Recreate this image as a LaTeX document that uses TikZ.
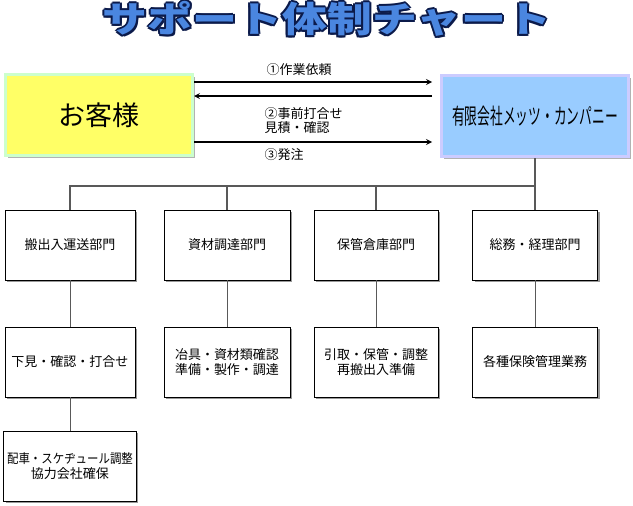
\documentclass[tikz,border=0pt]{standalone}
\usepackage{fontspec}
\setmainfont{Noto Sans CJK JP}
\usepackage{tikz}
\usetikzlibrary{positioning,shadows,calc}
\definecolor{custfill}{HTML}{FFFF66}
\definecolor{custline}{HTML}{CCFFCC}
\definecolor{compfill}{HTML}{99CCFF}
\definecolor{compline}{HTML}{CCCCFF}
\definecolor{titleblue}{HTML}{4A86E0}
\definecolor{titledark}{HTML}{0B1A4A}
\tikzstyle{chart}=[
  x=1pt,y=-1pt,>=stealth,font=\fontsize{13}{15}\selectfont
]
\tikzstyle{dept}=[
  draw,fill=white,line width=0.9,minimum height=70pt,align=center,
  drop shadow={shadow xshift=2pt,shadow yshift=-2pt,fill=gray!80,opacity=1}
]
\tikzstyle{party}=[
  line width=3,minimum width=187pt,minimum height=81pt,
  drop shadow={shadow xshift=2pt,shadow yshift=-2pt,fill=gray!60,opacity=1}
]
\tikzstyle{flow}=[
  ->,line width=1.6,shorten >=8pt
]
\tikzstyle{org}=[
  draw=black!65,line width=1.2
]
\newcommand{\titletext}[0]{\scalebox{1.32}[1.05]{\bfseries\fontsize{34}{36}\selectfont サポート体制チャート}}

\begin{document}
\begin{tikzpicture}[chart]
    \useasboundingbox (0,0) rectangle (633,506);
    % title
    \foreach \dx/\dy in {-2/0,2/0,0/-2,0/2,-1.5/-1.5,1.5/1.5,-1.5/1.5,1.5/-1.5}
      \node[text=titledark] at ($(327,19)+(\dx,\dy)$) {\titletext};
    \node (title) [text=titleblue] at (327,19) {\titletext};
    % parties
    \node (cust) at (99,115) [party,draw=custline,fill=custfill]
      {\fontsize{27}{29}\selectfont お客様};
    \node (comp) at (535,116) [party,draw=compline,fill=compfill]
      {\scalebox{0.58}[1]{\fontsize{22}{24}\selectfont 有限会社メッツ・カンパニー}};
    \draw[flow] (cust.east |- 0,82) -- (comp.west |- 0,82);
    \draw[flow,shorten >=0pt,shorten <=8pt] (comp.west |- 0,96) -- (cust.east |- 0,96);
    \draw[flow] (cust.east |- 0,142) -- (comp.west |- 0,142);
    \node (req) at (299,70) {①作業依頼};
    \node (meet) at (261,121) [anchor=west,align=left,font=\fontsize{13}{14}\selectfont]
      {②事前打合せ\\見積・確認};
    \node (order) at (261,155) [anchor=west] {③発注};
    % departments
    \node (d1) at (70,245) [dept,minimum width=130pt] {搬出入運送部門};
    \node (d2) at (227,245) [dept,minimum width=126pt] {資材調達部門};
    \node (d3) at (376,245) [dept,minimum width=124pt] {保管倉庫部門};
    \node (d4) at (535,245) [dept,minimum width=125pt] {総務・経理部門};
    \node (t1) at (70,362) [dept,minimum width=130pt] {下見・確認・打合せ};
    \node (t2) at (227,362) [dept,minimum width=126pt] {冶具・資材類確認\\準備・製作・調達};
    \node (t3) at (376,362) [dept,minimum width=124pt] {引取・保管・調整\\再搬出入準備};
    \node (t4) at (535,362) [dept,minimum width=125pt] {各種保険管理業務};
    \node (u1) at (70,466) [dept,minimum width=130pt]
      {\scalebox{0.88}[1]{配車・スケヂュール調整}\\協力会社確保};
    \draw[org] (comp.south) -- (d4.north);
    \draw[org] (comp.south |- 0,186) -| (d1.north);
    \draw[org] (d2.north |- 0,186) -- (d2.north);
    \draw[org] (d3.north |- 0,186) -- (d3.north);
    \foreach \a/\b in {d1/t1,d2/t2,d3/t3,d4/t4,t1/u1}
      \draw[org,line width=0.9] (\a.south) -- (\b.north);
\end{tikzpicture}
\end{document}
